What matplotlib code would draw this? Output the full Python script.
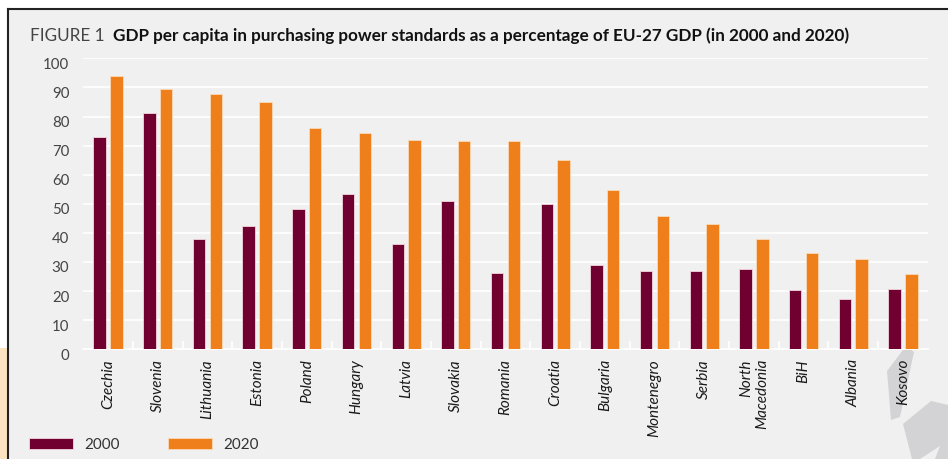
import matplotlib
matplotlib.use("Agg")
import matplotlib.pyplot as plt
import matplotlib.transforms as mtrans
import numpy as np
from matplotlib.patches import Polygon, Rectangle

countries = ["Czechia", "Slovenia", "Lithuania", "Estonia", "Poland", "Hungary",
             "Latvia", "Slovakia", "Romania", "Croatia", "Bulgaria", "Montenegro",
             "Serbia", "North\nMacedonia", "BiH", "Albania", "Kosovo"]
gdp_2000 = [73.1, 81.3, 38.0, 42.3, 48.2, 53.5, 36.2, 51.1, 26.2, 50.1, 28.8, 26.9,
            27.0, 27.6, 20.4, 17.4, 20.6]
gdp_2020 = [94.0, 89.6, 87.6, 84.9, 76.1, 74.2, 71.9, 71.5, 71.5, 64.9, 54.9, 45.8,
            43.1, 37.8, 33.0, 30.9, 25.8]
series_labels = ["2000", "2020"]
yticks = [0, 10, 20, 30, 40, 50, 60, 70, 80, 90, 100]

C2000 = "#700030"
C2020 = "#ef7f1a"
BG = "#f0f0f0"

W, H = 948, 459
fig = plt.figure(figsize=(W / 100, H / 100), dpi=100)
fig.patch.set_facecolor("white")

def fx(x):
    return x / W

def fy(y):
    return 1 - y / H

# background panel and borders
fig.patches.append(Rectangle((fx(8), 0), 1 - fx(8), fy(9), transform=fig.transFigure,
                             facecolor=BG, edgecolor="none", zorder=0))
fig.patches.append(Rectangle((0, 0), fx(7), fy(348), transform=fig.transFigure,
                             facecolor="#fde3c0", edgecolor="none", zorder=0))
fig.lines.append(plt.Line2D([fx(7.5), fx(7.5)], [0, fy(8.5)], transform=fig.transFigure,
                            color="#222222", lw=1.5, zorder=1))
fig.lines.append(plt.Line2D([fx(7.5), 1], [fy(8.5), fy(8.5)], transform=fig.transFigure,
                            color="#222222", lw=1.5, zorder=1))

# decorative shapes
deco = "#d3d3d6"
fig.patches.append(Polygon([(fx(x), fy(y)) for x, y in
                            [(906, 346), (914, 352), (900, 417), (891, 420), (887, 371)]],
                           closed=True, transform=fig.transFigure, facecolor=deco,
                           edgecolor="none", zorder=1))
fig.patches.append(Polygon([(fx(x), fy(y)) for x, y in
                            [(903, 424), (931, 401), (948, 405), (948, 459), (935, 459),
                             (940, 446), (920, 459), (912, 459)]],
                           closed=True, transform=fig.transFigure, facecolor=deco,
                           edgecolor="none", zorder=1))

ax = fig.add_axes([fx(83.3), fy(349.3), fx(927.7 - 83.3), (349.3 - 58.3) / H])
ax.set_facecolor("none")
ax.set_zorder(2)

x = np.arange(len(countries))
bw = 0.25
ax.bar(x - 0.17, gdp_2000, width=bw, color=C2000, edgecolor="#f4d6dc", linewidth=0.6,
       label=series_labels[0], zorder=3)
ax.bar(x + 0.17, gdp_2020, width=bw, color=C2020, edgecolor="#f9d9b8", linewidth=0.6,
       label=series_labels[1], zorder=3)

ax.set_xlim(-0.5, len(countries) - 0.5)
ax.set_ylim(0, 100)
ax.set_yticks(yticks)
ax.set_yticklabels([])
# y tick labels drawn slightly below their gridlines, as in the original
ylab_trans = ax.get_yaxis_transform() + mtrans.ScaledTranslation(-0.14, -0.065, fig.dpi_scale_trans)
for v in yticks:
    ax.text(0, v, str(v), transform=ylab_trans, ha="right", va="center",
            fontfamily="Lato", fontsize=10.8, color="#444444", clip_on=False)
ax.yaxis.grid(True, color="white", lw=1.2, zorder=1)
ax.set_axisbelow(True)
for s in ax.spines.values():
    s.set_visible(False)
ax.spines["bottom"].set_visible(True)
ax.spines["bottom"].set_color("white")
ax.spines["bottom"].set_linewidth(1.2)
ax.tick_params(axis="y", length=0, pad=9)

ax.set_xticks(x)
ax.set_xticklabels(countries, rotation=90, fontfamily="Lato", fontstyle="italic",
                   fontsize=11, color="#1a1a1a", multialignment="right")
ax.tick_params(axis="x", length=0, pad=7)
ax.set_xticks(np.arange(0.5, len(countries) - 1, 1), minor=True)
ax.tick_params(axis="x", which="minor", direction="in", length=6, color="white", width=1.2)

# title
fig.text(fx(30), fy(41), "FIGURE 1", fontfamily="Lato", fontweight="normal", fontsize=12.3,
         color="#444444", va="baseline", ha="left")
fig.text(fx(113), fy(41), "GDP per capita in purchasing power standards as a percentage of EU-27 GDP (in 2000 and 2020)",
         fontfamily="Lato", fontweight="bold", fontsize=12.3, color="#111111",
         va="baseline", ha="left")

# legend
leg = fig.legend(loc="lower left", bbox_to_anchor=(fx(29), fy(452)), ncol=2, frameon=False,
                 borderpad=0, borderaxespad=0, handlelength=2.9, handleheight=0.72,
                 handletextpad=0.75, columnspacing=3.1,
                 prop={"family": "Lato", "weight": "normal", "size": 11})
for t in leg.get_texts():
    t.set_color("#333333")

fig.savefig("out.png", dpi=100, facecolor=fig.get_facecolor())
